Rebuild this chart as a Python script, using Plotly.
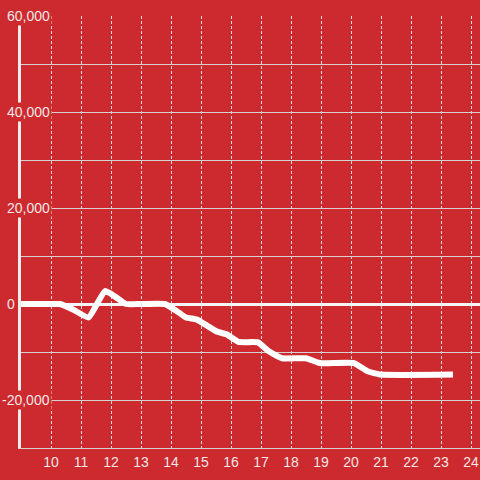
import plotly.graph_objects as go

# Data
hours = [9.0, 10.0, 10.3, 10.75, 11.25, 11.8, 12.1, 12.5, 13.0, 13.8, 14.2, 14.5,
         14.85, 15.2, 15.55, 15.85, 16.25, 16.9, 17.25, 17.7, 18.5, 18.95, 20.1,
         20.55, 21.0, 23.4]
values = [0, 0, 0, -1200, -2800, 2700, 1700, 0, 0, 0, -1500, -2800,
          -3200, -4500, -5800, -6300, -7900, -8000, -9800, -11300, -11300, -12300, -12300,
          -14000, -14700, -14700]

x_ticks = list(range(10, 25))
y_ticks = [-20000, 0, 20000, 40000, 60000]
y_labels = ["-20,000", "0", "20,000", "40,000", "60,000"]

BG = "#cc2a2f"
TXT = "#f2e6e6"
FONT = "Liberation Sans, Arial, sans-serif"

fig = go.Figure()
fig.add_trace(go.Scatter(
    x=hours, y=values, mode="lines",
    line=dict(color="white", width=6, shape="spline", smoothing=0.4),
    hoverinfo="skip", showlegend=False,
))

fig.update_layout(
    width=480, height=480,
    margin=dict(l=21, r=0, t=16, b=32),
    paper_bgcolor=BG, plot_bgcolor=BG,
    font=dict(family=FONT, size=14, color=TXT),
    showlegend=False,
)
fig.update_xaxes(
    range=[9, 24.3], tickmode="array", tickvals=x_ticks,
    ticktext=[str(t) for t in x_ticks],
    showgrid=True, gridcolor="#e6d8d8", gridwidth=1, griddash="3px,2px",
    showline=True, linecolor="#d9d0d0", linewidth=1,
    zeroline=False, ticks="outside", ticklen=1, tickcolor=BG,
    tickfont=dict(family=FONT, size=14, color=TXT),
)
fig.update_yaxes(
    range=[-30000, 60000], dtick=10000, showticklabels=False,
    showgrid=True, gridcolor="#d9d0d0", gridwidth=1,
    showline=True, linecolor="#eeeeee", linewidth=3,
    zeroline=True, zerolinecolor="#f5f5f5", zerolinewidth=3,
)

plot_w = 480 - 21
for v, lab in zip(y_ticks, y_labels):
    fig.add_annotation(
        x=(5.0 - 21.0) / plot_w, y=v, xref="paper", yref="y",
        text=lab, showarrow=False, xanchor="left", yanchor="middle",
        xshift=-4.7 if lab.startswith("-") else 0,
        bgcolor=BG, borderpad=1,
        font=dict(family=FONT, size=14, color=TXT),
    )

fig.write_html(
    "out.html",
    config={"displayModeBar": False},
    post_script="document.body.style.margin='0px';document.body.style.overflow='hidden';",
)
